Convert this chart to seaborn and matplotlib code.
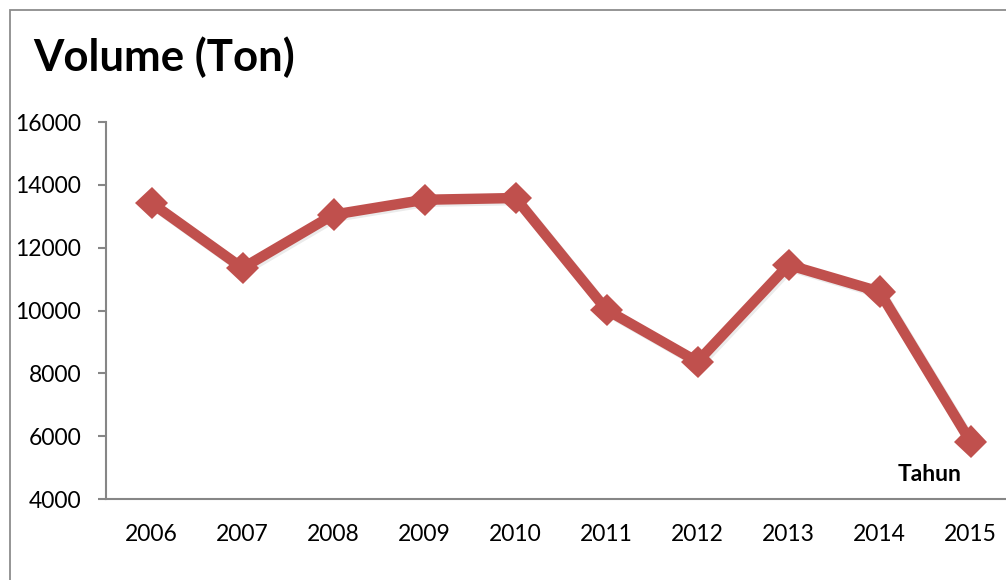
import matplotlib
matplotlib.use("Agg")
import matplotlib.pyplot as plt
import matplotlib.patheffects as pe
from matplotlib.patches import Rectangle
import pandas as pd
import seaborn as sns

# Annual volume (tons)
years = ["2006", "2007", "2008", "2009", "2010", "2011", "2012", "2013", "2014", "2015"]
volume = [13420, 11350, 13050, 13525, 13580, 10020, 8370, 11450, 10600, 5825]
y_ticks = [4000, 6000, 8000, 10000, 12000, 14000, 16000]

title_text = "Volume (Ton)"
x_title = "Tahun"

sns.set_style("white")
plt.rcParams["font.family"] = ["Lato", "DejaVu Sans"]

line_color = "#C0504D"
axis_color = "#868686"

df = pd.DataFrame({"year": years, "volume": volume})

fig = plt.figure(figsize=(10.06, 5.8), dpi=100)
fig.patch.set_facecolor("white")

# outer chart frame (only left and top edges fall inside the canvas)
fig.patches.append(Rectangle((10 / 1006, -0.1), 1.2, 1 - 10 / 580 + 0.1,
                             transform=fig.transFigure, fill=False,
                             edgecolor="#8c8c8c", linewidth=1.3, zorder=0))

ax = fig.add_axes([106 / 1006, 1 - 499 / 580, 910 / 1006, 377 / 580])

sns.lineplot(data=df, x="year", y="volume", ax=ax, color=line_color,
             linewidth=7.5, marker="D", markersize=16.5,
             markerfacecolor=line_color, markeredgecolor=line_color,
             markeredgewidth=0, sort=False)

for ln in ax.lines:
    ln.set_path_effects([
        pe.SimpleLineShadow(offset=(1.5, -1.5), shadow_color="#000000", alpha=0.08),
        pe.Normal(),
    ])
    ln.set_solid_joinstyle("miter")

ax.set_xlim(-0.5, len(years) - 0.5)
ax.set_ylim(y_ticks[0], y_ticks[-1])
ax.set_yticks(y_ticks)
ax.set_yticklabels([str(v) for v in y_ticks])

ax.set_xlabel("")
ax.set_ylabel("")

for side in ("top", "right"):
    ax.spines[side].set_visible(False)
for side in ("left", "bottom"):
    ax.spines[side].set_color(axis_color)
    ax.spines[side].set_linewidth(1.5)

ax.tick_params(axis="y", direction="out", length=6, width=1.5, color=axis_color,
               pad=12, labelsize=16.5, labelcolor="black", left=True)
ax.tick_params(axis="x", length=0, pad=18, labelsize=16.5, labelcolor="black")

ax.text(0.9055, 0.064, x_title, transform=ax.transAxes, ha="center", va="center",
        fontsize=16.5, fontweight="bold", color="black")

fig.text(33 / 1006, 1 - 57 / 580, title_text, ha="left", va="center",
         fontsize=31.5, fontweight="bold", color="black")

fig.savefig("out.png", dpi=100, facecolor="white")
